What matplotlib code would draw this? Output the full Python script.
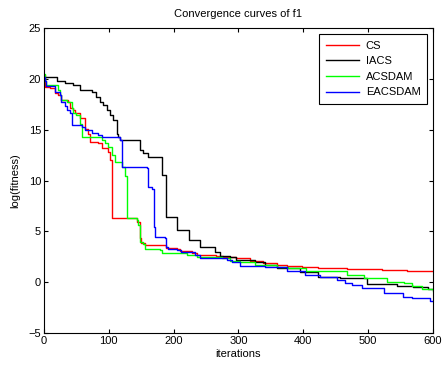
import matplotlib
matplotlib.use('Agg')
import matplotlib.pyplot as plt

plt.rcParams['font.family'] = ['Liberation Sans', 'DejaVu Sans']

# breakpoints (iteration, log(fitness)), drawn as steps
cs_it = [0, 1.5, 9, 17, 22, 27, 37, 40, 45, 48, 56, 63, 68, 71, 84, 89, 99, 102, 104.5,
         143, 148, 150, 156, 189, 205, 210, 228, 236, 266, 276, 297, 318, 338, 359, 375,
         398, 423, 446, 467, 521, 560, 600]
cs_val = [20.4, 19.2, 19.05, 18.6, 18.4, 17.9, 17.75, 17.1, 16.9, 16.6, 16.1, 15.1, 14.6,
          13.8, 13.65, 13.2, 12.8, 12.0, 6.35, 5.95, 4.3, 3.85, 3.65, 3.4, 3.25, 3.1, 2.9,
          2.7, 2.55, 2.5, 2.35, 2.1, 1.85, 1.7, 1.6, 1.5, 1.4, 1.35, 1.25, 1.2, 1.1, 1.1]

iacs_it = [0, 19.6, 32, 45, 56, 74, 81, 86, 91, 97, 102, 107, 112, 114, 117, 148, 153,
           160, 182, 189, 205, 223, 241, 264, 272, 287, 297, 326, 341, 359, 395, 423,
           457, 498, 544, 570, 593, 600]
iacs_val = [20.2, 19.8, 19.6, 19.4, 18.9, 18.7, 18.2, 17.75, 17.4, 16.9, 16.4, 15.95,
            14.6, 14.3, 14.0, 13.0, 12.7, 12.3, 10.5, 6.45, 5.1, 4.15, 3.5, 3.0, 2.6,
            2.5, 2.2, 2.0, 1.7, 1.4, 1.05, 0.55, 0.4, -0.2, -0.4, -0.5, -0.7, -0.7]

acsdam_it = [0, 1, 3, 22, 25, 27, 35, 43, 45, 50, 56, 58, 89, 94, 99, 104.5, 110, 120,
             125, 127.5, 143, 145.5, 148, 153, 156, 179, 182, 205, 220, 236, 274, 287,
             302, 326, 359, 377, 405, 467, 493, 529, 555, 567, 583, 600]
acsdam_val = [20.5, 19.8, 19.4, 18.9, 18.4, 17.9, 17.75, 17.1, 16.6, 16.4, 15.6, 14.3,
              14.0, 13.65, 13.3, 12.5, 11.85, 11.35, 10.4, 6.3, 6.1, 5.6, 4.0, 3.8, 3.3,
              3.2, 2.9, 2.85, 2.65, 2.5, 2.35, 2.1, 1.95, 1.7, 1.5, 1.4, 1.1, 0.7, 0.4,
              0.05, -0.1, -0.4, -0.7, -0.85]

eacsdam_it = [0, 1.5, 3, 17, 25, 27, 32, 35, 40, 43, 58, 63, 74, 84, 89, 117, 120, 158.5,
              161, 166, 169, 171, 187, 188, 192, 205, 212, 233, 241, 282, 290, 302, 341,
              375, 403, 426, 452, 465, 475, 490, 524, 554, 567, 596, 600]
eacsdam_val = [20.15, 19.8, 19.3, 18.75, 18.4, 17.7, 17.3, 16.9, 16.6, 15.45, 15.3, 15.0,
               14.65, 14.5, 14.3, 14.0, 11.35, 11.2, 9.4, 9.2, 5.45, 4.4, 4.3, 3.5, 3.3,
               3.2, 3.0, 2.7, 2.35, 2.2, 2.0, 1.6, 1.45, 1.1, 0.7, 0.55, 0.25, -0.05, -0.3,
               -0.6, -1.1, -1.45, -1.6, -1.85, -1.85]

labels = ['CS', 'IACS', 'ACSDAM', 'EACSDAM']
colors = ['#ff0000', '#000000', '#00ff00', '#0000ff']

fig = plt.figure(figsize=(4.44, 3.68), dpi=100)
ax = fig.add_axes([0.099, 0.095, 0.876, 0.829])

series = [(cs_it, cs_val), (iacs_it, iacs_val), (acsdam_it, acsdam_val), (eacsdam_it, eacsdam_val)]
for (x, y), lab, c in zip(series, labels, colors):
    ax.plot(x, y, drawstyle='steps-post', color=c, lw=1.0, label=lab)

ax.set_xlim(0, 600)
ax.set_ylim(-5, 25)
ax.set_xticks(range(0, 601, 100))
ax.set_yticks(range(-5, 26, 5))
ax.tick_params(direction='in', top=True, right=True, labelsize=8, length=3, width=0.8, pad=2)
for s in ax.spines.values():
    s.set_linewidth(0.8)

ax.set_xlabel('iterations', fontsize=8, labelpad=2)
ax.set_ylabel('log(fitness)', fontsize=8, labelpad=6)
ax.set_title('Convergence curves of f1', fontsize=8, pad=8)

leg = ax.legend(loc='upper right', bbox_to_anchor=(0.985, 0.98), fontsize=8,
                handlelength=3.0, fancybox=False, framealpha=1, edgecolor='black',
                borderaxespad=0, labelspacing=0.5, handletextpad=0.6, borderpad=0.6)
leg.get_frame().set_linewidth(0.8)

fig.savefig('out.png', dpi=100)
